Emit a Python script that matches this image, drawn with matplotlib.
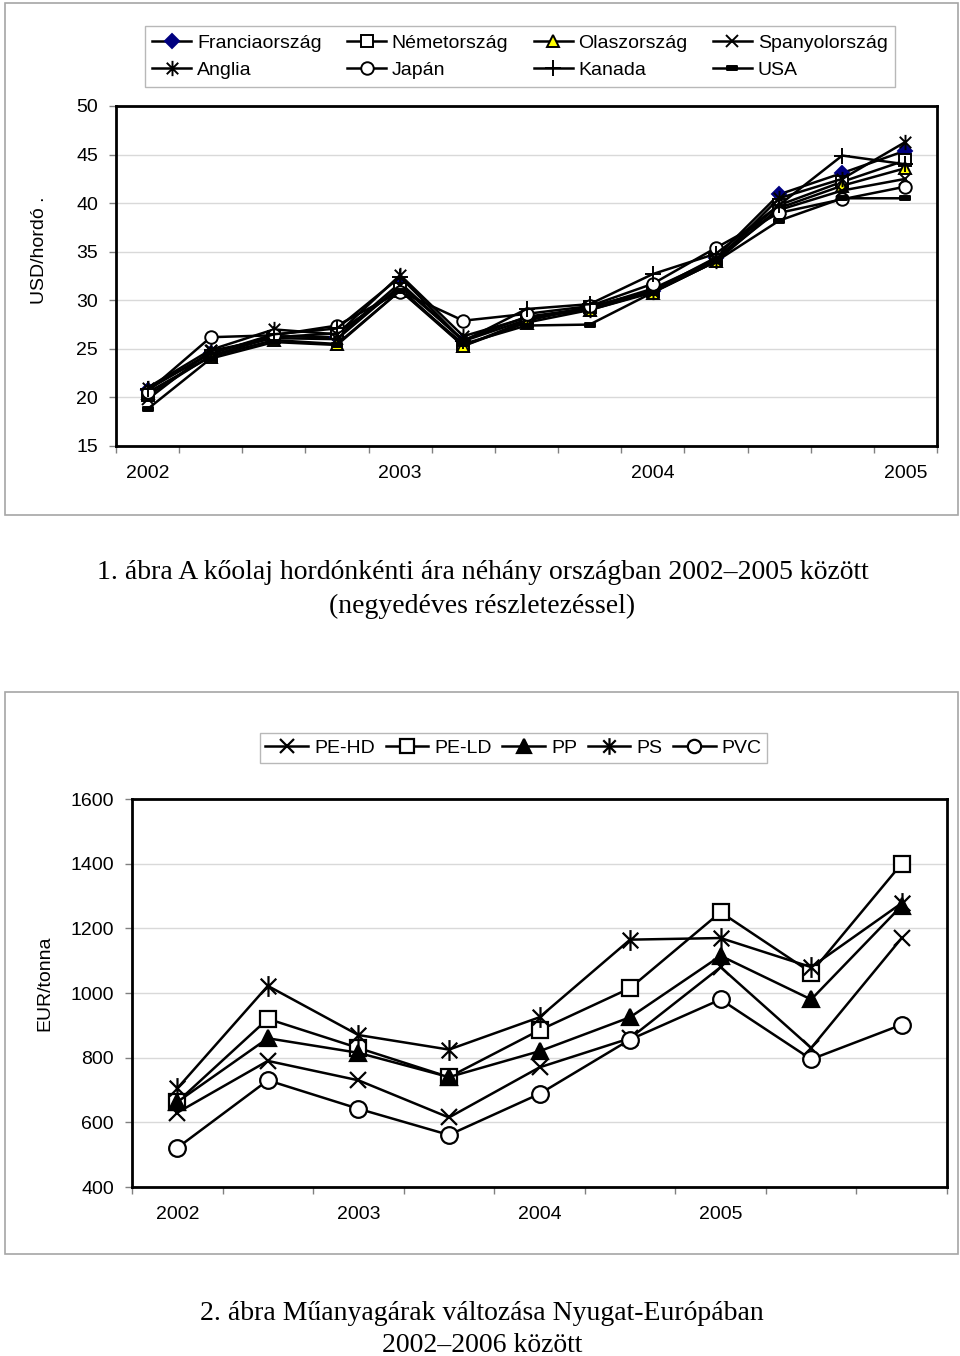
import matplotlib
matplotlib.use('Agg')
import matplotlib.pyplot as plt
import numpy as np
from matplotlib.path import Path
from matplotlib.patches import Rectangle

plt.rcParams['font.family'] = ['Liberation Sans', 'DejaVu Sans']

# ---------------- data: chart 1 (quarterly oil price, USD/barrel) ----------------
oil_year_labels = ['2002', '2003', '2004', '2005']
franciaorszag = [20.8, 24.6, 26.3, 26.2, 31.8, 25.8, 28.0, 29.3, 31.0, 34.4, 40.9, 43.1, 45.4]
nemetorszag   = [20.2, 24.3, 26.2, 26.6, 31.2, 25.3, 27.9, 29.3, 31.0, 34.3, 39.8, 42.2, 44.4]
olaszorszag   = [20.5, 24.2, 25.9, 25.5, 31.0, 25.3, 27.7, 29.0, 30.8, 34.0, 39.5, 41.8, 43.6]
spanyolorszag = [19.8, 24.8, 26.1, 26.0, 31.5, 25.9, 28.3, 29.2, 31.2, 34.2, 39.3, 41.3, 42.5]
anglia        = [21.0, 24.9, 27.0, 26.5, 32.6, 26.3, 28.2, 29.0, 30.9, 34.0, 40.5, 42.5, 46.3]
japan         = [20.6, 26.2, 26.4, 27.4, 30.9, 27.9, 28.6, 29.4, 31.7, 35.4, 39.0, 40.4, 41.7]
kanada        = [20.9, 24.5, 26.5, 27.1, 32.4, 25.8, 29.1, 29.6, 32.7, 34.8, 39.8, 44.9, 44.0]
usa           = [18.8, 24.0, 25.7, 25.4, 31.0, 25.5, 27.4, 27.5, 30.8, 34.0, 38.2, 40.5, 40.5]

# ---------------- data: chart 2 (half-yearly plastics prices, EUR/t) ----------------
plast_year_labels = ['2002', '2003', '2004', '2005']
pe_hd = [630, 790, 730, 615, 770, 860, 1080, 830, 1170]
pe_ld = [663, 920, 830, 740, 885, 1015, 1250, 1063, 1400]
pp    = [663, 860, 815, 740, 820, 925, 1115, 980, 1270]
ps    = [705, 1022, 870, 825, 925, 1165, 1170, 1080, 1278]
pvc   = [521, 730, 642, 561, 688, 856, 980, 795, 902]

# custom markers
AST = Path([(0, -1), (0, 1), (-0.75, -0.75), (0.75, 0.75), (-0.75, 0.75), (0.75, -0.75)],
           [Path.MOVETO, Path.LINETO] * 3)
DASH = Path([(-1, -0.4), (1, -0.4), (1, 0.4), (-1, 0.4), (-1, -0.4)],
            [Path.MOVETO, Path.LINETO, Path.LINETO, Path.LINETO, Path.CLOSEPOLY])

W, H = 960, 1356
fig = plt.figure(figsize=(W / 100, H / 100), dpi=100)

def fx(px):
    return px / W

def fy(py):
    return 1 - py / H

# outer frames
fig.add_artist(Rectangle((fx(5), fy(515)), fx(953), 512 / H, transform=fig.transFigure,
                         fill=False, edgecolor='#a6a6a6', lw=1.2))
fig.add_artist(Rectangle((fx(5), fy(1254)), fx(953), 562 / H, transform=fig.transFigure,
                         fill=False, edgecolor='#a6a6a6', lw=1.2))

# ---------------- chart 1 ----------------
ax1 = fig.add_axes([fx(116), fy(446), fx(937 - 116), (446 - 106) / H])
x1 = np.arange(len(franciaorszag))
series1 = [
    ('Franciaország', franciaorszag, dict(marker='D', ms=7, mfc='#000080', mec='#000080')),
    ('Németország', nemetorszag, dict(marker='s', ms=8, mfc='white', mec='black')),
    ('Olaszország', olaszorszag, dict(marker='^', ms=8, mfc='#ffff00', mec='black')),
    ('Spanyolország', spanyolorszag, dict(marker='x', ms=9, mec='black')),
    ('Anglia', anglia, dict(marker=AST, ms=11, mec='black')),
    ('Japán', japan, dict(marker='o', ms=9, mfc='white', mec='black')),
    ('Kanada', kanada, dict(marker='+', ms=12, mec='black')),
    ('USA', usa, dict(marker=DASH, ms=7, mfc='black', mec='black')),
]
handles1 = {}
for name, vals, st in series1:
    ln, = ax1.plot(x1, vals, color='black', lw=1.8, mew=1.4, label=name, clip_on=False, **st)
    handles1[name] = ln

ax1.set_xlim(-0.5, len(x1) - 0.5)
ax1.set_ylim(15, 50)
ax1.set_yticks(np.arange(15, 51, 5))
ax1.yaxis.grid(True, color='#d9d9d9', lw=1.0)
ax1.set_axisbelow(True)
for sp in ax1.spines.values():
    sp.set_linewidth(2.0)
    sp.set_color('black')
ax1.set_xticks(np.arange(-0.5, len(x1), 1))
ax1.set_xticklabels([])
ax1.set_xticks([0, 4, 8, 12], minor=True)
ax1.set_xticklabels(oil_year_labels, minor=True)
ax1.tick_params(axis='y', direction='out', length=5, width=1, color='#808080', labelsize=14, pad=8)
ax1.tick_params(axis='x', which='major', direction='out', length=5, width=1, color='#808080')
ax1.tick_params(axis='x', which='minor', length=0, pad=14, labelsize=14)

order1 = ['Franciaország', 'Anglia', 'Németország', 'Japán', 'Olaszország', 'Kanada', 'Spanyolország', 'USA']
leg1 = ax1.legend([handles1[n] for n in order1], order1, ncol=4, loc='center',
                  bbox_to_anchor=(fx(520), fy(56.5)), bbox_transform=fig.transFigure,
                  frameon=True, fancybox=False, edgecolor='#a6a6a6', fontsize=14,
                  handlelength=2.0, handletextpad=0.3, columnspacing=1.3,
                  labelspacing=0.5, borderpad=0.4)
leg1.get_frame().set_linewidth(1.0)

fig.text(fx(40), fy(250), 'USD/hordó .', rotation=90, ha='center', va='center', fontsize=14)

fig.text(fx(482.5), fy(573), '1. ábra A kőolaj hordónkénti ára néhány országban 2002–2005 között',
         family='Liberation Serif', fontsize=20, ha='center', va='center')
fig.text(fx(482.5), fy(606), '(negyedéves részletezéssel)',
         family='Liberation Serif', fontsize=20, ha='center', va='center')

# ---------------- chart 2 ----------------
ax2 = fig.add_axes([fx(132), fy(1187), fx(947 - 132), (1187 - 799) / H])
x2 = np.arange(len(pe_hd))
series2 = [
    ('PE-HD', pe_hd, dict(marker='x', ms=12, mec='black')),
    ('PE-LD', pe_ld, dict(marker='s', ms=12, mfc='white', mec='black')),
    ('PP', pp, dict(marker='^', ms=12, mfc='black', mec='black')),
    ('PS', ps, dict(marker=AST, ms=15, mec='black')),
    ('PVC', pvc, dict(marker='o', ms=12, mfc='white', mec='black')),
]
for name, vals, st in series2:
    ax2.plot(x2, vals, color='black', lw=1.8, mew=1.6, label=name, clip_on=False, **st)

ax2.set_xlim(-0.5, len(x2) - 0.5)
ax2.set_ylim(400, 1600)
ax2.set_yticks(np.arange(400, 1601, 200))
ax2.yaxis.grid(True, color='#d9d9d9', lw=1.0)
ax2.set_axisbelow(True)
for sp in ax2.spines.values():
    sp.set_linewidth(2.0)
    sp.set_color('black')
ax2.set_xticks(np.arange(-0.5, len(x2), 1))
ax2.set_xticklabels([])
ax2.set_xticks([0, 2, 4, 6], minor=True)
ax2.set_xticklabels(plast_year_labels, minor=True)
ax2.tick_params(axis='y', direction='out', length=5, width=1, color='#808080', labelsize=14, pad=8)
ax2.tick_params(axis='x', which='major', direction='out', length=5, width=1, color='#808080')
ax2.tick_params(axis='x', which='minor', length=0, pad=14, labelsize=14)

leg2 = ax2.legend(ncol=5, loc='center', bbox_to_anchor=(fx(513.5), fy(748)),
                  bbox_transform=fig.transFigure, frameon=True, fancybox=False,
                  edgecolor='#a6a6a6', fontsize=14, handlelength=2.2, handletextpad=0.3,
                  columnspacing=0.55, borderpad=0.3, markerscale=0.8)
leg2.get_frame().set_linewidth(1.0)

fig.text(fx(45), fy(983), 'EUR/tonna', rotation=90, ha='center', va='center', fontsize=14)

fig.text(fx(482), fy(1313), '2. ábra Műanyagárak változása Nyugat-Európában',
         family='Liberation Serif', fontsize=20, ha='center', va='center')
fig.text(fx(482), fy(1345), '2002–2006 között',
         family='Liberation Serif', fontsize=20, ha='center', va='center')

fig.savefig('out.png', dpi=100)
